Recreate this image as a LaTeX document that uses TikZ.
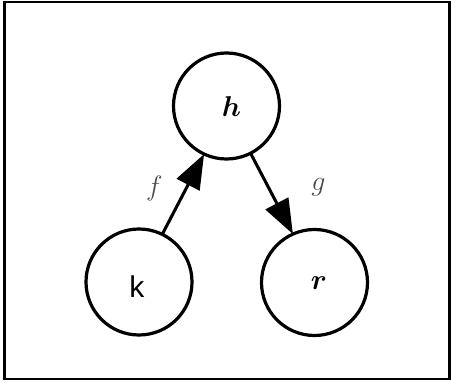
\RequirePackage{fix-cm}
\documentclass[tikz,border=0pt]{standalone}
\usepackage{amsmath}
\usepackage{bm}
\usepackage{fontspec}
\newfontfamily\labsans{Liberation Sans}
\usetikzlibrary{arrows.meta}
\begin{document}
\begin{tikzpicture}[x=0.75pt,y=0.75pt,
  vnode/.style={circle,draw,line width=2.4pt,minimum size=79.5pt,inner sep=0pt,outer sep=0pt},
  txt/.style={inner sep=0pt,font=\fontsize{21.5}{25}\selectfont},
  ktxt/.style={inner sep=0pt,font=\fontsize{22.5}{26}\selectfont\labsans},
  elab/.style={inner sep=0pt,font=\fontsize{21}{25}\selectfont,text=black!70},
  edge/.style={line width=2.3pt,-{Triangle[length=26pt,width=19pt]}}]
\useasboundingbox (0,0) rectangle (451,383);
\draw[line width=1.6pt] (4.5,4) rectangle (449.5,381);
\node[vnode] (h) at (226.5,277) {};
\node[vnode] (k) at (139,101) {};
\node[vnode] (r) at (314.5,100.5) {};
\node[txt] (hl) at (231.5,276.5) {$\bm{h}$};
\node[ktxt] (kl) at (137,96.5) {k};
\node[txt] (rl) at (319,99.5) {$\bm{r}$};
\node[elab] (fl) at (154.5,194.5) {$f$};
\node[elab] (gl) at (318.5,195.5) {$g$};
\draw[edge] (k.64) -- (h.245);
\draw[edge] (h.297.5) -- (r.114);
\end{tikzpicture}
\end{document}
